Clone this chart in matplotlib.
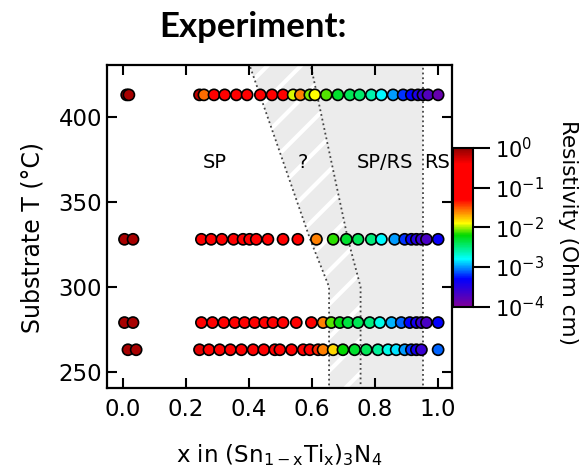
import numpy as np
import matplotlib
matplotlib.use('Agg')
import matplotlib.pyplot as plt
from matplotlib.colors import LinearSegmentedColormap, LogNorm
from matplotlib.cm import ScalarMappable

plt.rcParams['font.family'] = ['DejaVu Sans']
plt.rcParams['mathtext.fontset'] = 'dejavusans'
plt.rcParams['hatch.color'] = 'white'
plt.rcParams['hatch.linewidth'] = 3.0

# substrate temperatures of the four rows (deg C)
temps = [413, 328, 279, 263]

# composition x and log10(resistivity / Ohm cm) per row
x_413 = [0.013, 0.020, 0.244, 0.258, 0.290, 0.324, 0.361, 0.395, 0.437, 0.474, 0.509,
         0.541, 0.564, 0.594, 0.610, 0.646, 0.683, 0.721, 0.752, 0.789, 0.821, 0.858,
         0.890, 0.916, 0.937, 0.953, 0.969, 1.001]
r_413 = [-0.1, -0.1, -0.2, -1.55, -0.9, -0.9, -0.9, -0.8, -0.9, -0.9, -1.0,
         -1.95, -1.6, -2.05, -1.9, -2.1, -2.3, -2.4, -2.45, -2.6, -2.8, -3.0,
         -3.2, -3.3, -3.45, -3.6, -3.75, -3.85]

x_328 = [0.006, 0.033, 0.250, 0.281, 0.315, 0.352, 0.382, 0.403, 0.424, 0.461, 0.509,
         0.556, 0.615, 0.668, 0.710, 0.747, 0.789, 0.821, 0.863, 0.895, 0.916, 0.932,
         0.948, 0.964, 1.001]
r_328 = [-0.1, -0.1, -0.9, -0.9, -0.9, -0.85, -0.9, -0.9, -0.9, -0.9, -0.95,
         -1.3, -1.6, -2.15, -2.3, -2.4, -2.5, -2.8, -3.0, -3.2, -3.35, -3.5,
         -3.6, -3.7, -3.35]

x_279 = [0.006, 0.033, 0.250, 0.285, 0.321, 0.356, 0.387, 0.419, 0.451, 0.477, 0.509,
         0.551, 0.599, 0.636, 0.662, 0.689, 0.715, 0.747, 0.784, 0.816, 0.853, 0.884,
         0.911, 0.932, 0.948, 0.964, 1.001]
r_279 = [-0.1, -0.1, -0.9, -0.9, -0.9, -0.9, -0.9, -0.9, -0.9, -0.9, -0.9,
         -0.9, -0.95, -1.6, -2.1, -2.25, -2.35, -2.4, -2.5, -2.75, -2.95, -3.1,
         -3.3, -3.4, -3.6, -3.7, -3.3]

x_263 = [0.017, 0.043, 0.244, 0.274, 0.308, 0.342, 0.377, 0.414, 0.448, 0.483, 0.499,
         0.536, 0.573, 0.594, 0.620, 0.636, 0.668, 0.699, 0.736, 0.773, 0.810, 0.842,
         0.868, 0.895, 0.916, 0.932, 0.948, 1.001]
r_263 = [-0.1, -0.1, -0.3, -0.9, -0.9, -0.9, -0.9, -0.9, -0.9, -0.9, -0.9,
         -0.9, -0.95, -1.0, -1.4, -1.6, -1.8, -2.2, -2.3, -2.4, -2.55, -2.75,
         -2.85, -3.0, -3.2, -3.4, -3.6, -3.1]

rows_x = [x_413, x_328, x_279, x_263]
rows_r = [r_413, r_328, r_279, r_263]

# phase boundaries (x, T)
bound_left_x = [0.40, 0.595, 0.655, 0.655]
bound_mid_x = [0.595, 0.715, 0.755, 0.755]
bound_T = [432, 328, 300, 238]
bound_rs = 0.952

region_labels = ['SP', '?', 'SP/RS', 'RS']
region_x = [0.292, 0.571, 0.832, 0.997]
region_T = 373

# rainbow colormap like the original figure (log10 positions)
stops = [(-4.0, (0.50, 0.00, 0.60)), (-3.3, (0.00, 0.00, 1.00)), (-2.8, (0.00, 1.00, 1.00)),
         (-2.2, (0.00, 0.85, 0.00)), (-1.9, (1.00, 1.00, 0.00)), (-1.6, (1.00, 0.50, 0.00)),
         (-1.3, (1.00, 0.00, 0.00)), (-0.4, (1.00, 0.00, 0.00)), (0.0, (0.55, 0.00, 0.00))]
cmap = LinearSegmentedColormap.from_list('rb', [((v + 4) / 4, c) for v, c in stops])
norm = LogNorm(1e-4, 1)

fig = plt.figure(figsize=(5.87, 4.72), dpi=100)
ax = fig.add_axes([0.182, 0.178, 0.588, 0.684])

# shaded regions
ax.fill_betweenx(bound_T, bound_left_x, bound_mid_x, facecolor='#ebebeb',
                 hatch='/', linewidth=0, zorder=0)
ax.fill_betweenx(bound_T, bound_mid_x, bound_rs, facecolor='#ececec', linewidth=0, zorder=0)
ax.plot(bound_left_x, bound_T, ls=':', color='#444444', lw=1.3, zorder=1)
ax.plot(bound_mid_x, bound_T, ls=':', color='#444444', lw=1.3, zorder=1)
ax.plot([bound_rs, bound_rs], [bound_T[0], bound_T[-1]], ls=':', color='#444444', lw=1.3, zorder=1)

for T, xs, rs in zip(temps, rows_x, rows_r):
    ax.scatter(xs, [T] * len(xs), c=10 ** np.array(rs), cmap=cmap, norm=norm,
               s=64, edgecolors='black', linewidths=1.2, zorder=3)

for lab, lx in zip(region_labels, region_x):
    ax.text(lx, region_T, lab, ha='center', va='center', fontsize=14)

ax.set_xlim(-0.05, 1.045)
ax.set_ylim(240.5, 430.5)
ax.set_xticks([0.0, 0.2, 0.4, 0.6, 0.8, 1.0])
ax.set_yticks([250, 300, 350, 400])
ax.tick_params(direction='in', length=7, width=1.5, top=True, right=True, labelsize=16.5)
ax.tick_params(axis='x', pad=7)
for sp in ax.spines.values():
    sp.set_linewidth(1.6)
ax.set_xlabel(r'x in (Sn$_{\mathregular{1-x}}$Ti$_{\mathregular{x}}$)$_{\mathregular{3}}$N$_{\mathregular{4}}$',
              fontsize=16.5, va='center')
ax.xaxis.set_label_coords(0.5, -0.207)
ax.set_ylabel('Substrate T (°C)', fontsize=17, va='center')
ax.yaxis.set_label_coords(-0.214, 0.467)

cax = fig.add_axes([0.772, 0.350, 0.034, 0.337])
cb = fig.colorbar(ScalarMappable(norm=norm, cmap=cmap), cax=cax)
cb.set_ticks([1e-4, 1e-3, 1e-2, 1e-1, 1e0])
cb.ax.tick_params(which='major', length=12, width=1.5, labelsize=15, direction='out', pad=4)
cb.ax.tick_params(which='minor', length=0)
cb.outline.set_linewidth(1.5)

fig.text(0.967, 0.508, 'Resistivity (Ohm cm)', rotation=-90, ha='center', va='center', fontsize=15.5)
fig.text(0.431, 0.943, 'Experiment:', ha='center', va='center', fontsize=25,
         fontweight='bold', family=['Lato', 'DejaVu Sans'])

fig.savefig('out.png', dpi=100)
